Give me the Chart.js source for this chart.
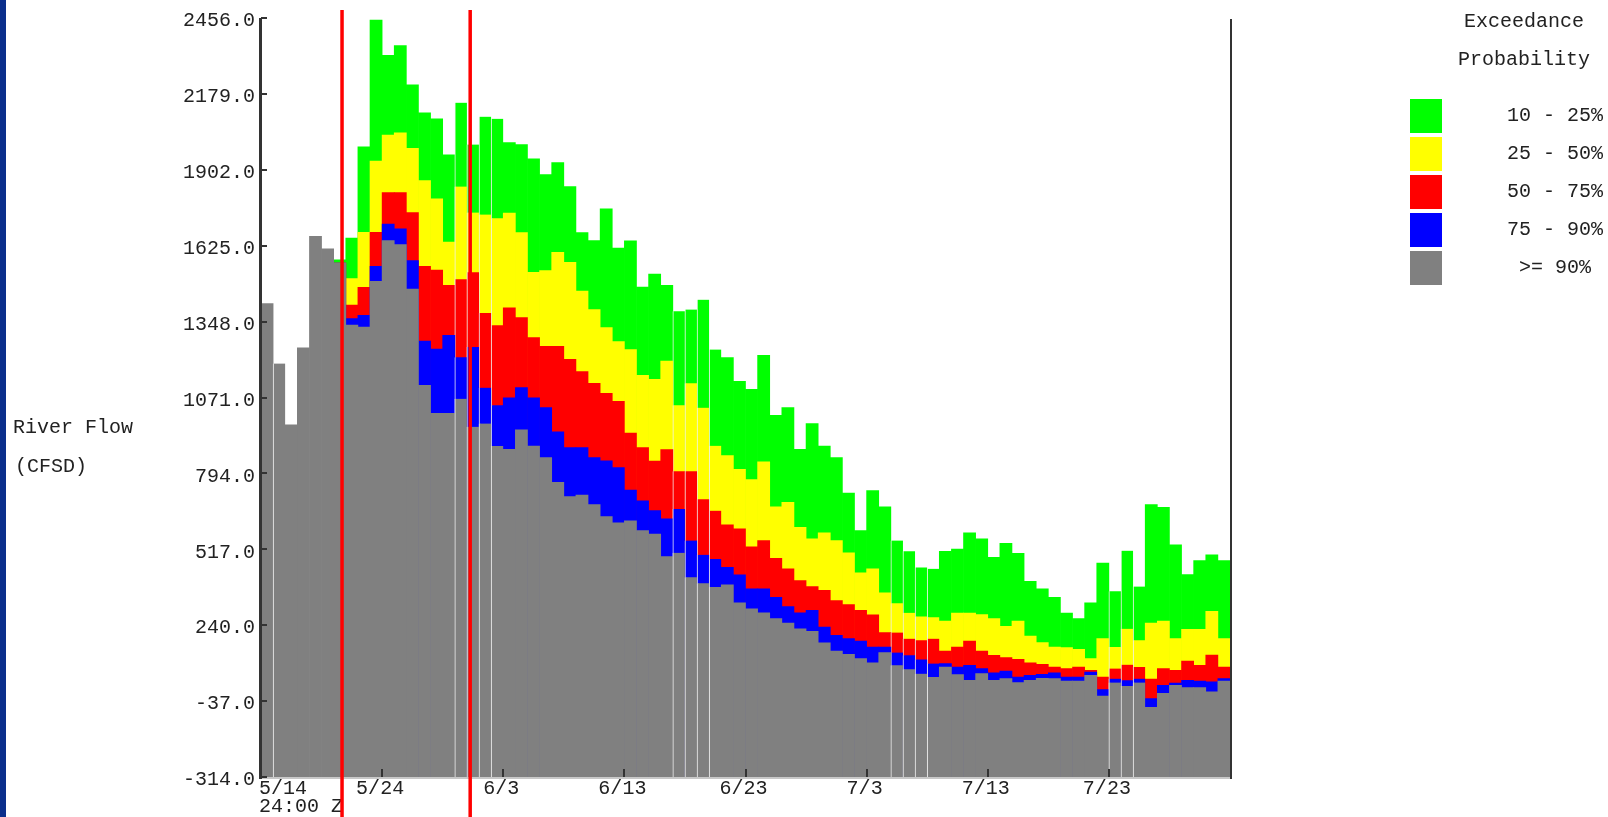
<!DOCTYPE html>
<html>
<head>
<meta charset="utf-8">
<title>River Flow - Exceedance Probability</title>
<script src="https://cdn.jsdelivr.net/npm/chart.js@4.4.0/dist/chart.umd.min.js"></script>
<style>
    body { margin: 0; background: #fff; }
    #wrap { position: relative; width: 1608px; height: 817px; overflow: hidden; }
    #edge { position: absolute; left: 0; top: 0; width: 6px; height: 817px; background: #0b2f8c; }
    .txt {
        position: absolute;
        font-family: "Liberation Mono", "DejaVu Sans Mono", monospace;
        font-size: 20px;
        line-height: 20px;
        color: #222;
        white-space: pre;
    }
    .center { width: 200px; text-align: center; }
    .box { position: absolute; width: 32px; height: 34px; }
</style>
</head>
<body>
<div id="wrap">
    <canvas id="flowChart"></canvas>
    <div id="edge"></div>
    <div class="txt" style="left:13px; top:418px">River Flow</div>
    <div class="txt" style="left:15px; top:457px">(CFSD)</div>
    <div id="legend"></div>
</div>

<script>
// Days after 5/14 24:00 Z, one bar per day
const tickLabels = ['5/14', '5/24', '6/3', '6/13', '6/23', '7/3', '7/13', '7/23'];
const startTime = '24:00 Z';
const dayCount = 80;

// y axis ticks
const yMin = -314;
const yMax = 2456;
const yStep = 277;

// band tops (CFSD); first days are observed flow only
const p10 = [null, null, null, null, null, null, 1573, 1653, 1986, 2448,
    2320, 2355, 2212, 2110, 2088, 1957, 2147, 1994, 2096, 2088,
    2001, 1994, 1942, 1885, 1928, 1841, 1673, 1644, 1760, 1616,
    1643, 1474, 1521, 1480, 1386, 1392, 1428, 1246, 1217, 1130,
    1101, 1225, 1006, 1034, 882, 976, 894, 852, 722, 585,
    731, 672, 549, 510, 451, 446, 510, 518, 577, 555,
    488, 539, 502, 400, 373, 342, 284, 264, 322, 467,
    364, 512, 381, 680, 670, 533, 425, 476, 497, 476];

const p25 = [null, null, null, null, null, null, 1562, 1505, 1674, 1934,
    2029, 2037, 1980, 1863, 1796, 1638, 1841, 1746, 1739, 1725,
    1744, 1673, 1528, 1534, 1601, 1564, 1459, 1392, 1326, 1275,
    1246, 1152, 1137, 1204, 1043, 1123, 1034, 895, 859, 809,
    771, 836, 672, 688, 597, 555, 577, 549, 504, 431,
    446, 358, 320, 285, 272, 269, 255, 284, 284, 279,
    264, 236, 255, 200, 177, 160, 158, 152, 118, 191,
    160, 227, 185, 248, 255, 191, 225, 225, 291, 191];

const p50 = [null, null, null, null, null, null, 1562, 1408, 1473, 1674,
    1819, 1819, 1746, 1550, 1536, 1480, 1503, 1528, 1379, 1335,
    1398, 1363, 1290, 1258, 1258, 1210, 1166, 1123, 1086, 1057,
    941, 888, 839, 881, 802, 802, 700, 658, 606, 592,
    526, 549, 484, 446, 403, 381, 367, 330, 315, 294,
    278, 213, 213, 191, 185, 191, 146, 160, 182, 146,
    130, 122, 115, 103, 97, 87, 82, 87, 75, 51,
    82, 96, 87, 43, 82, 75, 109, 94, 131, 87];

const p75 = [null, null, null, null, null, null, 1562, 1359, 1371, 1550,
    1704, 1687, 1571, 1277, 1248, 1298, 1218, 1255, 1107, 1043,
    1070, 1107, 1070, 1034, 946, 888, 888, 852, 840, 815,
    733, 694, 658, 628, 664, 549, 497, 482, 451, 424,
    373, 373, 342, 308, 285, 294, 233, 203, 191, 182,
    160, 160, 140, 130, 115, 100, 100, 87, 94, 82,
    66, 73, 51, 57, 61, 66, 51, 51, 69, 5,
    45, 39, 45, -28, 21, 29, 39, 36, 33, 45];

const p90 = [1414, 1195, 971, 1252, 1659, 1614, 1562, 1335, 1328, 1495,
    1644, 1629, 1467, 1115, 1013, 1013, 1066, 964, 976, 894,
    882, 953, 894, 852, 761, 709, 715, 680, 636, 614,
    621, 585, 573, 490, 504, 415, 393, 379, 387, 322,
    300, 285, 264, 248, 227, 218, 176, 146, 134, 118,
    103, 140, 94, 79, 63, 51, 87, 60, 39, 63,
    39, 45, 31, 39, 46, 45, 36, 36, 57, -19,
    31, 18, 31, -60, -9, 21, 12, 12, -3, 36];

// days drawn with a thin light gap on their left edge
const gapDays = [1, 16, 17, 18, 19, 34, 35, 36, 37, 52, 53, 54, 55, 70, 71, 72];

// red marker lines (days after start)
const markerDays = [6.69, 17.27];

const legendTitle = ['Exceedance', 'Probability'];
const legendLabels = ['10 - 25%', '25 - 50%', '50 - 75%', '75 - 90%', '>= 90%'];
const bandColors = ['#00ff00', '#ffff00', '#ff0000', '#0000ff', '#808080'];

// Build legend
function buildLegend() {
    const legend = document.getElementById('legend');
    let html = '';
    legendTitle.forEach((t, i) => {
        html += `<div class="txt center" style="left:1424px; top:${12 + i * 38}px">${t}</div>`;
    });
    legendLabels.forEach((label, i) => {
        const top = 99 + i * 38;
        html += `<div class="box" style="left:1410px; top:${top}px; background:${bandColors[i]}"></div>`;
        html += `<div class="txt center" style="left:1455px; top:${top + 7}px">${label.replace('>', '&gt;')}</div>`;
    });
    legend.innerHTML = html;
}

function toPoints(values) {
    return values.map((v, i) => ({ x: i + 0.5, y: v }));
}

function gapBorder(ctx) {
    return gapDays.includes(ctx.dataIndex) ? { left: 1, top: 0, right: 0, bottom: 0 } : 0;
}

// Axis lines, inward ticks and marker lines
const framePlugin = {
    id: 'frame',
    afterDatasetsDraw(chart) {
        const { ctx, chartArea: a, scales: { x, y } } = chart;
        ctx.save();
        ctx.fillStyle = '#c8c8c8';
        ctx.fillRect(a.left, a.bottom, a.right - a.left, 2);
        ctx.fillStyle = '#333';
        ctx.fillRect(a.left - 2, a.top, 3, a.bottom - a.top + 2);
        ctx.fillRect(a.right, a.top + 1, 2, a.bottom - a.top + 1);
        y.ticks.forEach(t => {
            const py = Math.round(y.getPixelForValue(t.value));
            ctx.fillRect(a.left, py - 1, 6, 2);
        });
        x.ticks.forEach(t => {
            if (t.value <= 0 || t.value >= dayCount) return;
            const px = Math.round(x.getPixelForValue(t.value));
            ctx.fillRect(px - 1, a.bottom - 8, 2, 8);
        });
        ctx.fillStyle = '#ff0000';
        markerDays.forEach(d => {
            const px = x.getPixelForValue(d);
            ctx.fillRect(px - 1.75, 10, 3.5, chart.height - 10);
        });
        ctx.restore();
    }
};

function initializeChart() {
    Chart.defaults.font.family = '"Liberation Mono", "DejaVu Sans Mono", monospace';
    Chart.defaults.font.size = 20;
    Chart.defaults.color = '#222';

    const series = [p90, p75, p50, p25, p10];
    const colors = ['#808080', '#0000ff', '#ff0000', '#ffff00', '#00ff00'];
    const names = ['>= 90%', '75 - 90%', '50 - 75%', '25 - 50%', '10 - 25%'];

    new Chart(document.getElementById('flowChart'), {
        type: 'bar',
        data: {
            datasets: series.map((values, i) => ({
                label: names[i],
                data: toPoints(values),
                backgroundColor: colors[i],
                borderColor: '#f0f0f0',
                borderWidth: gapBorder,
                borderSkipped: false,
                base: yMin,
                grouped: false,
                barPercentage: 1,
                categoryPercentage: 1
            }))
        },
        options: {
            responsive: true,
            maintainAspectRatio: false,
            devicePixelRatio: 1,
            animation: false,
            layout: { padding: { left: 0, right: 378, top: 16, bottom: 0 } },
            plugins: {
                legend: { display: false },
                tooltip: { enabled: false }
            },
            scales: {
                x: {
                    type: 'linear',
                    min: 0,
                    max: dayCount,
                    offset: false,
                    grid: { display: false, drawTicks: false, offset: false },
                    border: { display: false },
                    afterFit: s => { s.height = 40; },
                    ticks: {
                        stepSize: 10,
                        autoSkip: false,
                        maxRotation: 0,
                        align: 'inner',
                        padding: 3,
                        labelOffset: -2,
                        font: { lineHeight: 0.9 },
                        callback: value => {
                            const k = Math.round(value / 10);
                            if (k === 0) return [tickLabels[0], startTime];
                            return tickLabels[k] || '';
                        }
                    }
                },
                y: {
                    min: yMin,
                    max: yMax,
                    grid: { display: false, drawTicks: false },
                    border: { display: false },
                    afterFit: s => { s.width = 261; },
                    ticks: {
                        stepSize: yStep,
                        padding: 6,
                        labelOffset: 3,
                        callback: value => value.toFixed(1)
                    }
                }
            }
        },
        plugins: [framePlugin]
    });
}

document.addEventListener('DOMContentLoaded', function() {
    buildLegend();
    initializeChart();
});
</script>
</body>
</html>
